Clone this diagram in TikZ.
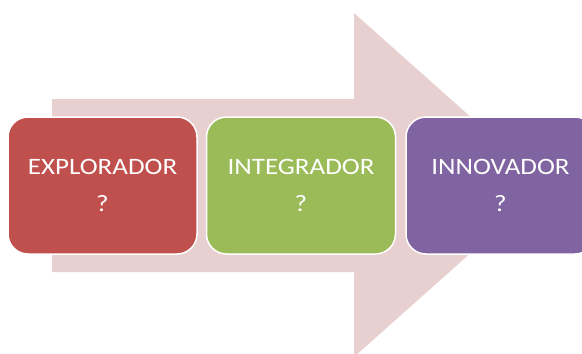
\documentclass[tikz,border=0pt]{standalone}
\usepackage{fontspec}
\setmainfont{Carlito}[FakeStretch=1.15]
\usepackage{xcolor}
\definecolor{flecha}{RGB}{232,208,208}
\definecolor{rojo}{RGB}{192,80,77}
\definecolor{verde}{RGB}{155,187,89}
\definecolor{morado}{RGB}{128,100,162}
\tikzset{
        etapa/.style={draw=white,line width=1.5pt,rounded corners=20pt,minimum width=189pt,minimum height=137pt,inner sep=0pt,text=white,align=center,font=\fontsize{23.5}{37}\selectfont}
}

\begin{document}
\begin{tikzpicture}[x=1pt,y=-1pt]
        \useasboundingbox (0,0) rectangle (582,354);
        \begin{scope}
        \clip (0,0) rectangle (582,354);
        \fill[flecha] (52,99) -- (354,99) -- (354,13) -- (547,185) -- (354,357) -- (354,272) -- (52,272) -- cycle;
        \node[etapa,fill=rojo] at (102.5,185.5) (expl) {EXPLORADOR\\?};
        \node[etapa,fill=verde] at (301,185.5) (integ) {INTEGRADOR\\?};
        \node[etapa,fill=morado] at (500.5,185.5) (innov) {INNOVADOR\\?};
        \end{scope}
    \end{tikzpicture}
\end{document}
